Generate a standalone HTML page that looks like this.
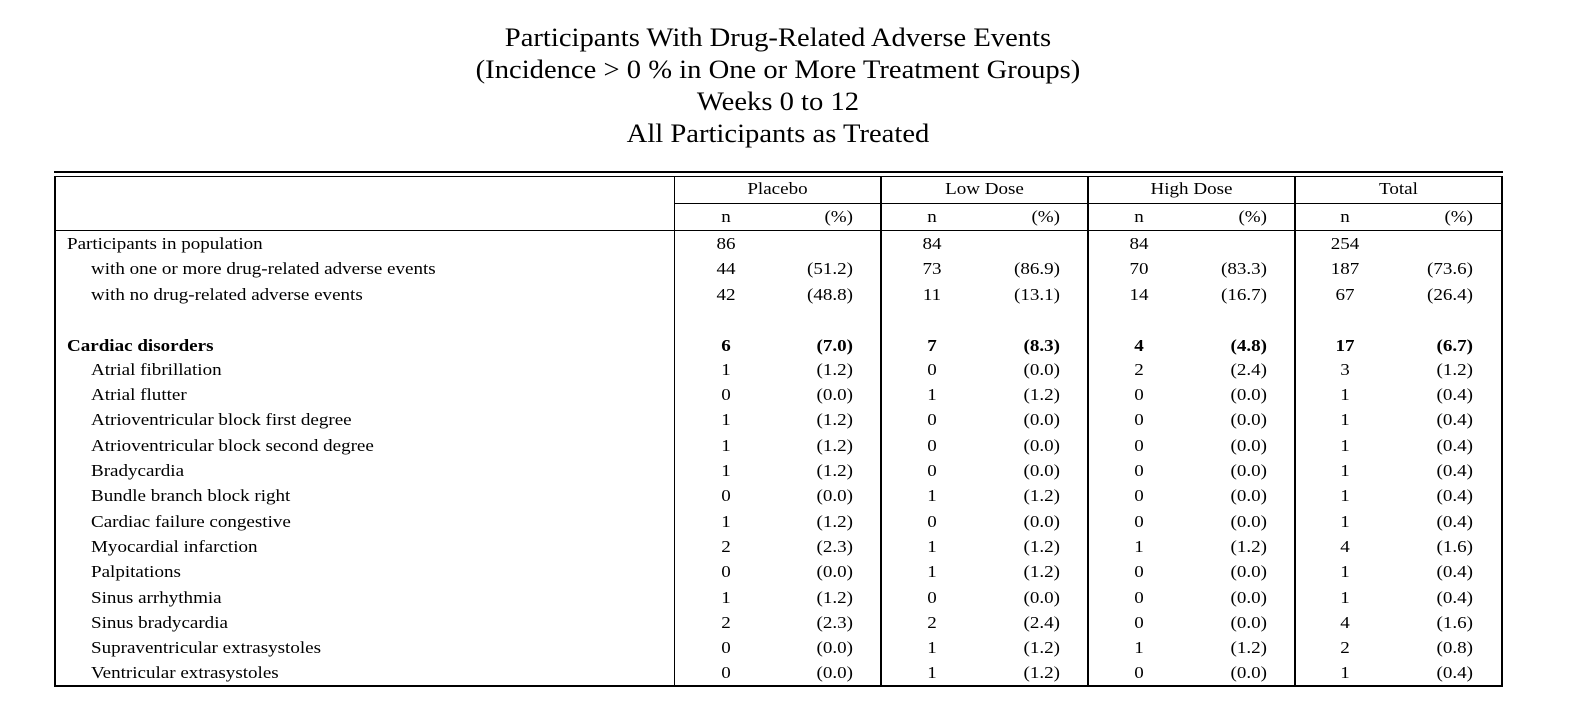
<!DOCTYPE html>
<html><head><meta charset="utf-8"><style>
body{margin:0;background:#fff;width:1578px;height:725px;position:relative;overflow:hidden;font-family:"Liberation Serif",serif;color:#000}
.t{position:absolute;left:0;width:1556px;text-align:center;font-size:26px;line-height:32px;transform:scaleX(1.1);transform-origin:778px 0}
.l{position:absolute;background:#000}
.r{position:absolute;left:0;width:1578px;height:20px;font-size:17px;line-height:20px}
.r span{position:absolute;white-space:nowrap;transform:scaleX(1.12)}
.a{left:67px;transform-origin:0 0}.i{left:91px;transform-origin:0 0}
.n{width:40px;text-align:center;transform-origin:50% 0}
.p{width:80px;text-align:right;transform-origin:100% 0}
.c{transform-origin:50% 0}
.b{font-weight:bold}
</style></head><body>
<div class="t" style="top:22px">Participants With Drug-Related Adverse Events</div>
<div class="t" style="top:54px">(Incidence &gt; 0 % in One or More Treatment Groups)</div>
<div class="t" style="top:86px">Weeks 0 to 12</div>
<div class="t" style="top:118px">All Participants as Treated</div>

<div class="l" style="left:54px;top:171px;width:1449px;height:2px"></div>
<div class="l" style="left:54px;top:176px;width:1449px;height:1px"></div>
<div class="l" style="left:54px;top:685px;width:1449px;height:2px"></div>
<div class="l" style="left:54px;top:176px;width:2px;height:511px"></div>
<div class="l" style="left:1501px;top:176px;width:2px;height:511px"></div>
<div class="l" style="left:674px;top:176px;width:1px;height:510px"></div>
<div class="l" style="left:880px;top:176px;width:2px;height:510px"></div>
<div class="l" style="left:1087px;top:176px;width:2px;height:510px"></div>
<div class="l" style="left:1294px;top:176px;width:2px;height:510px"></div>
<div class="l" style="left:674px;top:203px;width:828px;height:1px"></div>
<div class="l" style="left:54px;top:230px;width:1448px;height:1px"></div>

<div class="r" style="top:179px"><span class="c" style="left:674px;width:207px;text-align:center">Placebo</span><span class="c" style="left:881px;width:207px;text-align:center">Low Dose</span><span class="c" style="left:1088px;width:207px;text-align:center">High Dose</span><span class="c" style="left:1295px;width:207px;text-align:center">Total</span></div>
<div class="r" style="top:207px"><span class="n" style="left:706px">n</span><span class="p" style="left:773px">(%)</span><span class="n" style="left:912px">n</span><span class="p" style="left:980px">(%)</span><span class="n" style="left:1119px">n</span><span class="p" style="left:1187px">(%)</span><span class="n" style="left:1325px">n</span><span class="p" style="left:1393px">(%)</span></div>

<div id="rows"></div>
<script>
var rows=[
[234,"a","Participants in population","86","","84","","84","","254",""],
[259,"i","with one or more drug-related adverse events","44","(51.2)","73","(86.9)","70","(83.3)","187","(73.6)"],
[285,"i","with no drug-related adverse events","42","(48.8)","11","(13.1)","14","(16.7)","67","(26.4)"],
[336,"a b","Cardiac disorders","6","(7.0)","7","(8.3)","4","(4.8)","17","(6.7)"],
[360,"i","Atrial fibrillation","1","(1.2)","0","(0.0)","2","(2.4)","3","(1.2)"],
[385,"i","Atrial flutter","0","(0.0)","1","(1.2)","0","(0.0)","1","(0.4)"],
[410,"i","Atrioventricular block first degree","1","(1.2)","0","(0.0)","0","(0.0)","1","(0.4)"],
[436,"i","Atrioventricular block second degree","1","(1.2)","0","(0.0)","0","(0.0)","1","(0.4)"],
[461,"i","Bradycardia","1","(1.2)","0","(0.0)","0","(0.0)","1","(0.4)"],
[486,"i","Bundle branch block right","0","(0.0)","1","(1.2)","0","(0.0)","1","(0.4)"],
[512,"i","Cardiac failure congestive","1","(1.2)","0","(0.0)","0","(0.0)","1","(0.4)"],
[537,"i","Myocardial infarction","2","(2.3)","1","(1.2)","1","(1.2)","4","(1.6)"],
[562,"i","Palpitations","0","(0.0)","1","(1.2)","0","(0.0)","1","(0.4)"],
[588,"i","Sinus arrhythmia","1","(1.2)","0","(0.0)","0","(0.0)","1","(0.4)"],
[613,"i","Sinus bradycardia","2","(2.3)","2","(2.4)","0","(0.0)","4","(1.6)"],
[638,"i","Supraventricular extrasystoles","0","(0.0)","1","(1.2)","1","(1.2)","2","(0.8)"],
[663,"i","Ventricular extrasystoles","0","(0.0)","1","(1.2)","0","(0.0)","1","(0.4)"]];
var nx=[706,912,1119,1325],px=[773,980,1187,1393],h="";
rows.forEach(function(r){
 var b=r[1].indexOf("b")>=0?" b":"";
 h+='<div class="r'+b+'" style="top:'+r[0]+'px"><span class="'+r[1]+'">'+r[2]+'</span>';
 for(var k=0;k<4;k++){h+='<span class="n" style="left:'+nx[k]+'px">'+r[3+2*k]+'</span><span class="p" style="left:'+px[k]+'px">'+r[4+2*k]+'</span>';}
 h+='</div>';
});
document.getElementById("rows").innerHTML=h;
</script>
</body></html>
